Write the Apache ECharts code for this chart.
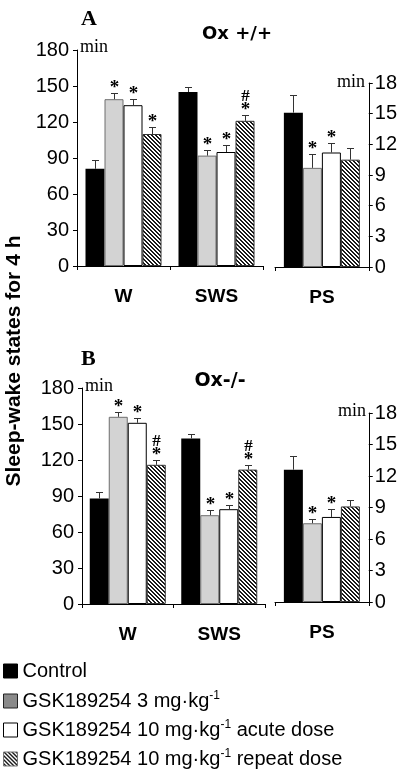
<!DOCTYPE html>
<html>
<head>
<meta charset="utf-8">
<script src="https://cdn.jsdelivr.net/npm/echarts@6/dist/echarts.min.js"></script>
<style>
html,body{margin:0;padding:0;background:#fff;}
#c{width:400px;height:773px;}
</style>
</head>
<body>
<div id="c"></div>
<script>
// ---- data ----
const leftCategories = ['W', 'SWS'];
const rightCategories = ['PS'];
const seriesNames = ['Control', 'GSK189254 3 mg·kg-1', 'GSK189254 10 mg·kg-1 acute dose', 'GSK189254 10 mg·kg-1 repeat dose'];
const leftTicks = [0, 30, 60, 90, 120, 150, 180];
const rightTicks = [0, 3, 6, 9, 12, 15, 18];

// Panel A (Ox +/+): values for W, SWS, PS
const A_control = [81, 145, 15.1];
const A_gsk3 = [139, 92, 9.7];
const A_acute = [134, 95, 11.2];
const A_repeat = [110, 121, 10.5];
const A_control_err = [7, 4.5, 1.7];
const A_gsk3_err = [5.5, 4.5, 1.4];
const A_acute_err = [5.5, 5.5, 0.9];
const A_repeat_err = [5.5, 5, 1.1];
const A_marks = [['', '', ''], ['*', '*', '*'], ['*', '*', '*'], ['*', '#*', '']];

// Panel B (Ox-/-)
const B_control = [88, 138, 12.6];
const B_gsk3 = [156, 74, 7.5];
const B_acute = [151, 79, 8.1];
const B_repeat = [116, 112, 9.1];
const B_control_err = [5, 4, 1.3];
const B_gsk3_err = [4, 4, 0.45];
const B_acute_err = [4, 3.5, 0.8];
const B_repeat_err = [4, 4, 0.6];
const B_marks = [['', '', ''], ['*', '*', '*'], ['*', '*', '*'], ['#*', '#*', '']];

// ---- styling ----
const BAR_W = 19;
const SANS = '"Liberation Sans", Arial, sans-serif';
const WIDE = '"DejaVu Sans", "Liberation Sans", sans-serif';
const SERIF = '"Liberation Serif", "Times New Roman", serif';

const hatch = document.createElement('canvas');
hatch.width = 4; hatch.height = 4;
(function () {
  const ctx = hatch.getContext('2d');
  ctx.fillStyle = '#fff'; ctx.fillRect(0, 0, 4, 4);
  ctx.fillStyle = '#1a1a1a';
  for (let i = 0; i < 4; i++) {
    ctx.fillRect(i, i, 1, 1);
    ctx.fillRect((i + 1) % 4, i, 1, 1);
  }
})();
const hatchFill = { image: hatch, repeat: 'repeat' };

const barStyles = [
  { color: '#000', borderColor: '#000', borderWidth: 0 },
  { color: '#d3d3d3', borderColor: '#6e6e6e', borderWidth: 1 },
  { color: '#fff', borderColor: '#000', borderWidth: 1 },
  { color: hatchFill, borderColor: '#333', borderWidth: 1 }
];
const legendStyles = [
  { color: '#000', borderColor: '#000', borderWidth: 1 },
  { color: '#8a8a8a', borderColor: '#222', borderWidth: 1 },
  { color: '#fff', borderColor: '#000', borderWidth: 1 },
  { color: hatchFill, borderColor: '#777', borderWidth: 1 }
];

const panels = [
  { vals: [A_control, A_gsk3, A_acute, A_repeat], errs: [A_control_err, A_gsk3_err, A_acute_err, A_repeat_err], marks: A_marks },
  { vals: [B_control, B_gsk3, B_acute, B_repeat], errs: [B_control_err, B_gsk3_err, B_acute_err, B_repeat_err], marks: B_marks }
];

const grids = [
  { left: 77, top: 50, width: 186, height: 216 },
  { left: 275, top: 83, width: 97, height: 184 },
  { left: 82, top: 388, width: 183, height: 216 },
  { left: 275, top: 413, width: 97, height: 189 }
];

const xAxes = [], yAxes = [], series = [];
grids.forEach((g, gi) => {
  const isRight = gi % 2 === 1;
  xAxes.push({
    type: 'category', gridIndex: gi,
    data: isRight ? rightCategories : leftCategories,
    axisLine: { show: true, lineStyle: { color: '#000', width: 1 } },
    axisTick: { show: true, length: 4, lineStyle: { color: '#000' } },
    axisLabel: { margin: 21, fontFamily: SANS, fontSize: 19, fontWeight: 'bold', color: '#000' }
  });
  const ticks = isRight ? rightTicks : leftTicks;
  yAxes.push({
    type: 'value', gridIndex: gi,
    position: isRight ? 'right' : 'left',
    min: ticks[0], max: ticks[ticks.length - 1], interval: ticks[1] - ticks[0],
    axisLine: { show: true, lineStyle: { color: '#000', width: 1 } },
    axisTick: { show: true, length: 4, lineStyle: { color: '#000' } },
    splitLine: { show: false },
    axisLabel: { margin: isRight ? 6 : 8, fontFamily: SANS, fontSize: 20, color: '#000' }
  });
});

panels.forEach((p, pi) => {
  [[0, 1], [2]].forEach((cats, side) => {
    const gi = pi * 2 + side;
    const rows = [];
    for (let k = 0; k < 4; k++) {
      series.push({
        type: 'bar', name: seriesNames[k], xAxisIndex: gi, yAxisIndex: gi,
        barWidth: BAR_W, barGap: '0%',
        itemStyle: barStyles[k],
        data: cats.map(c => p.vals[k][c]),
        silent: true, animation: false
      });
      cats.forEach((c, ci) => rows.push({ cat: ci, k: k, v: p.vals[k][c], e: p.errs[k][c], m: p.marks[k][c] }));
    }
    series.push({
      type: 'custom', xAxisIndex: gi, yAxisIndex: gi, z: 5, silent: true, animation: false,
      data: rows.map(r => [r.cat, r.k, r.v, r.e]),
      encode: { x: 0, y: 2 },
      renderItem: function (params, api) {
        const r = rows[params.dataIndex];
        const c0 = api.coord([api.value(0), api.value(2)]);
        const c1 = api.coord([api.value(0), api.value(2) + api.value(3)]);
        const x = Math.round(c0[0] + (api.value(1) - 1.5) * BAR_W) + 0.5;
        const yc = Math.round(c1[1]) + 0.5;
        const children = [
          { type: 'line', shape: { x1: x, y1: c0[1], x2: x, y2: yc }, style: { stroke: '#333', lineWidth: 1 } },
          { type: 'line', shape: { x1: x - 3.5, y1: yc, x2: x + 3.5, y2: yc }, style: { stroke: '#333', lineWidth: 1 } }
        ];
        if (r.m.indexOf('*') >= 0) {
          children.push({ type: 'text', style: { text: '*', x: x, y: yc - 5, align: 'center', verticalAlign: 'middle', font: 'bold 19px ' + SERIF, fill: '#000' } });
        }
        if (r.m.indexOf('#') >= 0) {
          children.push({ type: 'text', style: { text: '#', x: x, y: yc - 19, align: 'center', verticalAlign: 'middle', font: 'bold 17px ' + SERIF, fill: '#000' } });
        }
        return { type: 'group', children: children };
      }
    });
  });
});

// legends (one per row)
const legendRows = [671, 701, 730, 759];
const legends = seriesNames.map((n, k) => ({
  data: [{ name: n, itemStyle: legendStyles[k] }],
  left: 3, top: legendRows[k] - 11, padding: 0,
  itemWidth: 14, itemHeight: 14, itemGap: 0, icon: 'rect',
  selectedMode: false,
  formatter: function (name) {
    const m = name.match(/^(.*mg·kg)-1(.*)$/);
    if (!m) return '{a|' + name + '}';
    return '{a|' + m[1] + '}{s|-1}' + (m[2] ? '{a|' + m[2] + '}' : '');
  },
  textStyle: {
    color: '#000', fontFamily: SANS, fontSize: 20, lineHeight: 22,
    rich: {
      a: { fontFamily: SANS, fontSize: 20, color: '#000', lineHeight: 22 },
      s: { fontFamily: SANS, fontSize: 12, color: '#000', verticalAlign: 'top', lineHeight: 22, padding: [0, 0, 10, 0] }
    }
  }
}));

const txt = (t, x, y, font, align) => ({
  type: 'text', x: x, y: y, silent: true,
  style: { text: t, x: 0, y: 0, font: font, fill: '#000', align: align || 'left', verticalAlign: 'middle' }
});

const graphics = [
  txt('A', 81, 19, 'bold 22px ' + SERIF),
  txt('Ox +/+', 237, 34, 'bold 18px ' + WIDE, 'center'),
  txt('min', 80, 47, '18px ' + SERIF),
  txt('min', 337, 82, '18px ' + SERIF),
  txt('B', 81, 359, 'bold 22px ' + SERIF),
  txt('Ox-/-', 220, 381, 'bold 19px ' + WIDE, 'center'),
  txt('min', 85, 386, '18px ' + SERIF),
  txt('min', 338, 411, '18px ' + SERIF),
  { type: 'text', x: 14, y: 361, rotation: Math.PI / 2, silent: true,
    style: { text: 'Sleep-wake states for 4 h', font: 'bold 21px ' + SANS, fill: '#000', align: 'center', verticalAlign: 'middle' } }
];

const chart = echarts.init(document.getElementById('c'), null, { renderer: 'canvas' });
chart.setOption({
  animation: false,
  backgroundColor: '#fff',
  grid: grids,
  xAxis: xAxes,
  yAxis: yAxes,
  series: series,
  legend: legends,
  graphic: graphics
});
</script>
</body>
</html>
